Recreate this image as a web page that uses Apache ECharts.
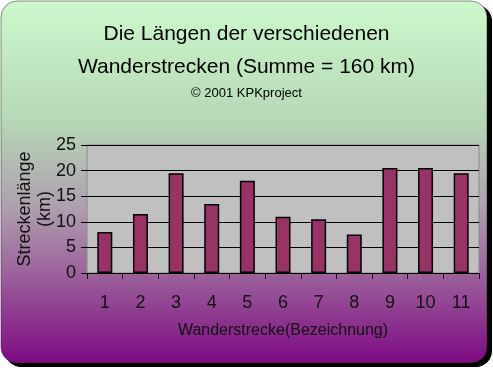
<!DOCTYPE html>
<html><head><meta charset="utf-8">
<script src="https://cdn.jsdelivr.net/npm/echarts@6/dist/echarts.min.js"></script>
<style>html,body{margin:0;padding:0;background:#fff}#c{width:493px;height:370px}</style>
</head><body><div id="c"></div>
<script>
var categories = ['1','2','3','4','5','6','7','8','9','10','11'];
var lengths = [8, 11.5, 19.5, 13.5, 18, 11, 10.5, 7.5, 20.5, 20.5, 19.5];
var yTicks = [0, 5, 10, 15, 20, 25];
var titleLines = ['Die Längen der verschiedenen', 'Wanderstrecken (Summe = 160 km)'];
var subtitle = '© 2001 KPKproject';
var yName = 'Streckenlänge\n(km)';
var xName = 'Wanderstrecke(Bezeichnung)';

var FONT = '"Liberation Sans", Arial, sans-serif';
var chart = echarts.init(document.getElementById('c'), null, {renderer: 'canvas'});
chart.setOption({
  animation: false,
  graphic: [
    {type: 'rect', z: -10, shape: {x: 5, y: 5, width: 487, height: 362, r: 16}, style: {fill: '#000'}},
    {type: 'rect', z: -9, shape: {x: 1, y: 1, width: 486, height: 362, r: 16},
      style: {fill: new echarts.graphic.LinearGradient(0, 0, 0, 1, [
        {offset: 0, color: '#cdf8cd'},
        {offset: 0.33, color: '#b6d8b6'},
        {offset: 0.57, color: '#ae9fae'},
        {offset: 0.77, color: '#9a5c9a'},
        {offset: 1, color: '#7e0a82'}
      ]), stroke: '#222', lineWidth: 0.5}},
    {type: 'text', left: 'center', top: 24, style: {text: titleLines[0], font: '21px ' + FONT, fill: '#000'}},
    {type: 'text', left: 'center', top: 57, style: {text: titleLines[1], font: '21px ' + FONT, fill: '#000'}},
    {type: 'text', left: 'center', top: 87, style: {text: subtitle, font: '13px ' + FONT, fill: '#000'}}
  ],
  grid: {left: 87, right: 14, top: 145, bottom: 97, show: true, backgroundColor: '#c0c0c0', borderColor: '#8a8a8a', borderWidth: 1},
  xAxis: {
    type: 'category', data: categories,
    name: xName, nameLocation: 'middle', nameGap: 50, nameMoveOverlap: false,
    nameTextStyle: {fontFamily: FONT, fontSize: 16, color: '#111'},
    axisLine: {show: false},
    axisTick: {show: true, alignWithLabel: false, length: 6, inside: false, lineStyle: {color: '#000', width: 1}},
    axisLabel: {margin: 21, fontFamily: FONT, fontSize: 18, color: '#111'}
  },
  yAxis: {
    type: 'value', min: yTicks[0], max: yTicks[yTicks.length - 1], interval: 5,
    name: yName, nameLocation: 'middle', nameGap: 32, nameRotate: 90, nameMoveOverlap: false,
    nameTextStyle: {fontFamily: FONT, fontSize: 18, color: '#111', lineHeight: 20},
    axisLine: {show: false},
    axisTick: {show: true, length: 6, lineStyle: {color: '#000', width: 1}},
    axisLabel: {margin: 11, fontFamily: FONT, fontSize: 18, color: '#111'},
    splitLine: {show: true, lineStyle: {color: '#000', width: 1.2}}
  },
  series: [{
    type: 'bar', data: lengths, barWidth: 15,
    itemStyle: {color: '#993366', borderColor: '#000', borderWidth: 1.5}
  }]
});
</script></body></html>
